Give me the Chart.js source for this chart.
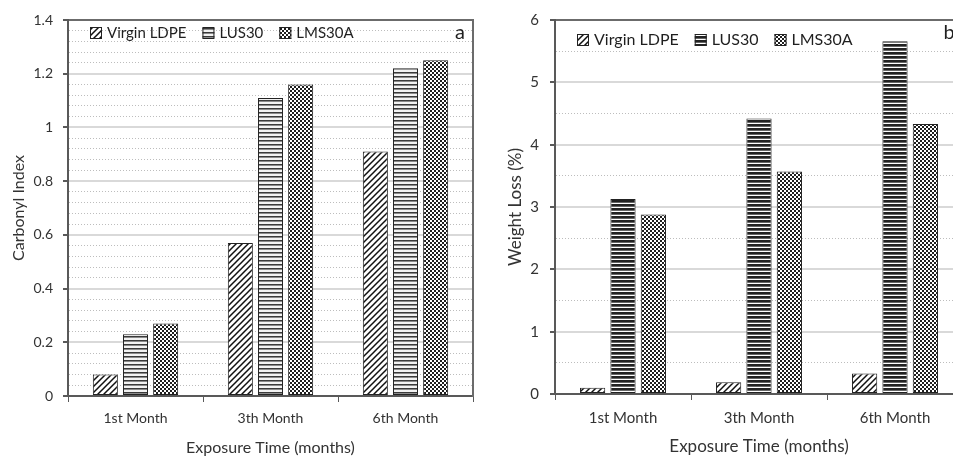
<!DOCTYPE html>
<html>
<head>
<meta charset="utf-8">
<script src="https://cdn.jsdelivr.net/npm/chart.js@4.4.1/dist/chart.umd.min.js"></script>
<style>
  html, body { margin: 0; padding: 0; background: #fff; overflow: hidden; }
  #wrap { position: relative; width: 953px; height: 459px; overflow: hidden; }
  #c1 { position: absolute; left: 0; top: 0; }
  #c2 { position: absolute; left: 480px; top: 0; }
</style>
</head>
<body>
<div id="wrap">
  <canvas id="c1" width="480" height="459"></canvas>
  <canvas id="c2" width="490" height="459"></canvas>
</div>
<script>
// categories / series
var months = ['1st Month', '3th Month', '6th Month'];
var seriesNames = ['Virgin LDPE', 'LUS30', 'LMS30A'];

// (a) carbonyl index
var carbVirgin = [0.08, 0.57, 0.91];
var carbLUS = [0.23, 1.11, 1.22];
var carbLMS = [0.27, 1.16, 1.25];
var carbTicks = [0, 0.2, 0.4, 0.6, 0.8, 1, 1.2, 1.4];

// (b) weight loss (%)
var wlVirgin = [0.10, 0.19, 0.33];
var wlLUS = [3.13, 4.42, 5.66];
var wlLMS = [2.88, 3.57, 4.33];
var wlTicks = [0, 1, 2, 3, 4, 5, 6];

var FONT = 'Lato, "Open Sans", sans-serif';

// hatch fills for the bars
function hatch(kind) {
  var c = document.createElement('canvas');
  var g = c.getContext('2d');
  if (kind == 'diag') {
    c.width = c.height = 6;
    g.fillStyle = '#fff'; g.fillRect(0, 0, 6, 6);
    g.strokeStyle = '#111'; g.lineWidth = 1.5;
    g.beginPath();
    g.moveTo(-1, 7); g.lineTo(7, -1);
    g.moveTo(-1, 1); g.lineTo(1, -1);
    g.moveTo(5, 7); g.lineTo(7, 5);
    g.stroke();
  } else if (kind == 'lines') {
    c.width = 4; c.height = 4;
    g.fillStyle = '#f2f2f2'; g.fillRect(0, 0, 4, 4);
    g.fillStyle = '#3a3a3a'; g.fillRect(0, 0, 4, 1);
    g.fillStyle = '#8a8a8a'; g.fillRect(0, 1, 4, 1);
  } else if (kind == 'linesDark') {
    c.width = 4; c.height = 4;
    g.fillStyle = '#fff'; g.fillRect(0, 0, 4, 4);
    g.fillStyle = '#222'; g.fillRect(0, 0, 4, 2);
    g.fillStyle = '#666'; g.fillRect(0, 2, 4, 1);
  } else {
    // checkered dots
    c.width = c.height = 4;
    g.fillStyle = '#fff'; g.fillRect(0, 0, 4, 4);
    g.fillStyle = '#1e1e1e';
    g.fillRect(0, 0, 2, 2); g.fillRect(2, 2, 2, 2);
  }
  return g.createPattern(c, 'repeat');
}

function isMajor(v, list) {
  return list.some(function (t) { return Math.abs(t - v) < 1e-6; });
}

// legend drawn inside the plot frame + panel letter
var panelText = {
  id: 'panelText',
  afterDraw: function (chart, args, opts) {
    var ctx = chart.ctx, a = chart.chartArea;
    ctx.save();
    ctx.font = opts.font;
    ctx.textBaseline = 'middle';
    ctx.textAlign = 'left';
    var x = a.left + opts.dx, y = a.top + opts.dy;
    chart.data.datasets.forEach(function (ds) {
      ctx.fillStyle = ds.backgroundColor;
      ctx.fillRect(x, y - 6, 12, 12);
      ctx.strokeStyle = '#222'; ctx.lineWidth = 1;
      ctx.strokeRect(x + 0.5, y - 5.5, 11, 11);
      ctx.fillStyle = '#1f1f1f';
      ctx.fillText(ds.label, x + 17, y);
      x += 17 + ctx.measureText(ds.label).width + opts.gap;
    });
    ctx.font = opts.tagFont;
    ctx.textAlign = 'center';
    ctx.fillStyle = '#1f1f1f';
    ctx.fillText(opts.tag, a.right - opts.tagDx, a.top + opts.tagDy);
    ctx.restore();
  }
};

function makeChart(id, sets, pats, cfg) {
  return new Chart(document.getElementById(id), {
    type: 'bar',
    data: {
      labels: months,
      datasets: sets.map(function (d, i) {
        return {
          label: seriesNames[i],
          data: d,
          backgroundColor: pats[i],
          borderColor: '#222',
          borderWidth: 1,
          borderSkipped: false,
          categoryPercentage: 0.67,
          barPercentage: 0.83
        };
      })
    },
    options: {
      responsive: false,
      animation: false,
      layout: { padding: { left: 0, right: 7, top: cfg.top, bottom: 0 } },
      plugins: {
        legend: { display: false },
        tooltip: { enabled: false },
        panelText: { font: cfg.legendFont, dx: 22, dy: cfg.legendDy, gap: 16,
                     tag: cfg.tag, tagFont: '20px ' + FONT, tagDx: cfg.tagDx, tagDy: 13 }
      },
      scales: {
        x: {
          afterFit: function (s) { s.height = cfg.xH; },
          grid: { offset: true, drawOnChartArea: false, tickLength: 6, color: '#595959', lineWidth: 1 },
          border: { color: '#595959', width: 2 },
          ticks: { color: '#333', padding: cfg.xPad, font: { family: FONT, size: cfg.tickSize } },
          title: { display: true, text: 'Exposure Time (months)', color: '#333',
                   padding: { top: 0, bottom: 2 }, font: { family: FONT, size: cfg.titleSize } }
        },
        x2: {
          position: 'top',
          afterFit: function (s) { s.height = 0; },
          grid: { display: false },
          ticks: { display: false },
          border: { color: '#6b6b6b', width: 2 }
        },
        y: {
          min: 0, max: cfg.max,
          afterFit: function (s) { s.width = cfg.yW; },
          grid: {
            color: function (c) { return c.tick && isMajor(c.tick.value, cfg.ticks) ? '#d9d9d9' : '#bdbdbd'; },
            lineWidth: function (c) { return c.tick && isMajor(c.tick.value, cfg.ticks) ? 2 : 1; },
            tickColor: function (c) { return c.tick && isMajor(c.tick.value, cfg.ticks) ? '#595959' : 'rgba(0,0,0,0)'; },
            tickLength: 5
          },
          border: {
            color: '#595959', width: 2,
            dash: function (c) { return c.tick && !isMajor(c.tick.value, cfg.ticks) ? [1, 2] : []; }
          },
          ticks: {
            stepSize: cfg.step,
            autoSkip: false,
            color: '#333',
            padding: cfg.yPad,
            font: { family: FONT, size: cfg.tickSize },
            callback: function (v) { return isMajor(v, cfg.ticks) ? String(v) : ''; }
          },
          title: { display: true, text: cfg.yTitle, color: '#333',
                   padding: { top: cfg.yTitlePad, bottom: 0 }, font: { family: FONT, size: cfg.titleSize } }
        },
        y2: {
          position: 'right',
          afterFit: function (s) { s.width = 0; },
          grid: { display: false },
          ticks: { display: false },
          border: { color: '#6b6b6b', width: 2 }
        }
      }
    },
    plugins: [panelText]
  });
}

makeChart('c1', [carbVirgin, carbLUS, carbLMS],
  [hatch('diag'), hatch('lines'), hatch('dots')],
  { top: 20, xH: 63, yW: 68, max: 1.4, step: 0.04, ticks: carbTicks, tickSize: 14, titleSize: 16,
    xPad: 8, yPad: 10, yTitle: 'Carbonyl Index', yTitlePad: 9, legendFont: '15px ' + FONT,
    legendDy: 13, tag: 'a', tagDx: 13 });

makeChart('c2', [wlVirgin, wlLUS, wlLMS],
  [hatch('diag'), hatch('linesDark'), hatch('dots')],
  { top: 17, xH: 65, yW: 75, max: 6, step: 0.5, ticks: wlTicks, tickSize: 15, titleSize: 17,
    xPad: 9, yPad: 11, yTitle: 'Weight Loss (%)', yTitlePad: 25, legendFont: '16px ' + FONT,
    legendDy: 20, tag: 'b', tagDx: 14 });
</script>
</body>
</html>
